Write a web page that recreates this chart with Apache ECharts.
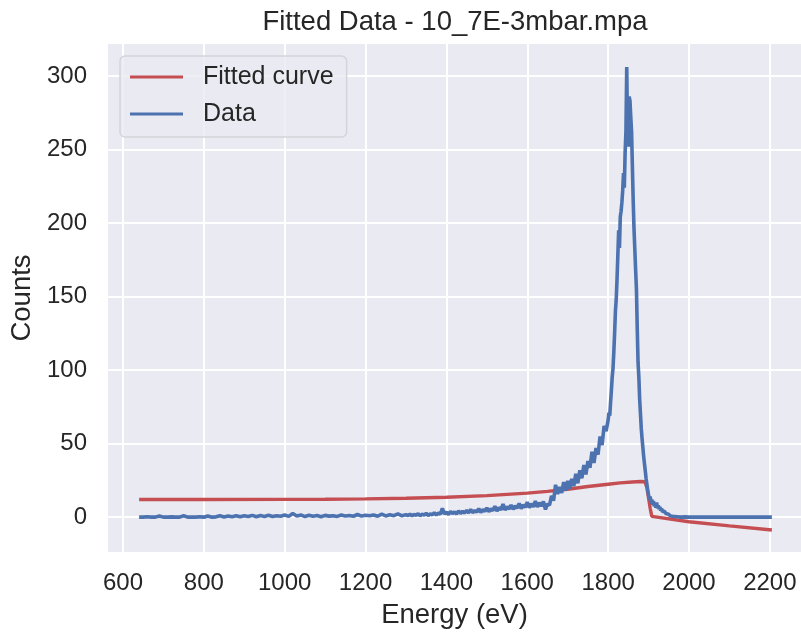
<!DOCTYPE html>
<html>
<head>
<meta charset="utf-8">
<script src="https://cdn.jsdelivr.net/npm/echarts@6/dist/echarts.min.js"></script>
<style>
  html, body { margin: 0; padding: 0; background: #fff; }
  #chart { width: 801px; height: 635px; }
</style>
</head>
<body>
<div id="chart"></div>
<script>
// measured spectrum (energy in eV, counts)
const dataEnergy = [
  640, 650, 660, 670, 680, 690, 700, 710, 720, 730,
  740, 750, 760, 770, 780, 790, 800, 810, 820, 830,
  840, 850, 860, 870, 880, 890, 900, 910, 920, 930,
  940, 950, 960, 970, 980, 990, 1000, 1010, 1020, 1030,
  1040, 1050, 1060, 1070, 1080, 1090, 1100, 1110, 1120, 1130,
  1140, 1150, 1160, 1170, 1180, 1190, 1200, 1210, 1220, 1230,
  1240, 1250, 1260, 1270, 1280, 1290, 1300,
  1305, 1310, 1315, 1320, 1325, 1330, 1335, 1340, 1345, 1350,
  1355, 1360, 1365, 1370, 1375, 1380, 1385, 1390, 1395, 1400,
  1405, 1410, 1415, 1420, 1425, 1430, 1435, 1440, 1445, 1450,
  1455, 1460, 1465, 1470, 1475, 1480, 1485, 1490, 1495, 1500,
  1505, 1510, 1515, 1520, 1525, 1530, 1535, 1540, 1545, 1550,
  1555, 1560, 1565, 1570, 1575, 1580, 1585, 1590, 1595, 1600,
  1605, 1610, 1615, 1620, 1625, 1630, 1635, 1640, 1645, 1650,
  1655, 1660, 1665, 1670, 1675, 1680, 1685, 1690, 1695, 1700,
  1705, 1710, 1715, 1720, 1725, 1730, 1735, 1740, 1745, 1750,
  1755, 1760, 1765, 1770, 1775, 1780, 1785, 1790, 1795,
  1800, 1802, 1804, 1806, 1808, 1810, 1812, 1814, 1816, 1818,
  1820, 1822, 1824, 1826, 1828, 1830, 1832, 1834, 1836, 1838,
  1840, 1842, 1844, 1846, 1848, 1850, 1852, 1854, 1856, 1858,
  1860, 1862, 1864, 1866, 1868, 1870, 1872, 1874, 1876, 1878,
  1880, 1882, 1884, 1886, 1888, 1890, 1892, 1894, 1896, 1898,
  1900, 1902, 1904, 1906, 1908, 1910, 1912, 1914, 1916, 1918,
  1920, 1922, 1924, 1926, 1928, 1930, 1932, 1934, 1936, 1938,
  1940, 1942, 1944, 1946, 1948, 1950, 1952, 1954, 1956, 1958,
  1960, 1970, 1980, 1990, 2000, 2050, 2100, 2150, 2205
]
const dataCounts = [
  0, 0, 0.3, 0, 0, 0.8, 0, 0, 0.2, 0,
  0, 0.9, 0, 0.1, 0, 0.3, 0, 0.7, 0, 0.2,
  0.9, 0.1, 0.8, 0.3, 1.0, 0.2, 0.9, 0.4, 1.2, 0.3,
  1.1, 0.5, 1.3, 0.4, 1.0, 0.6, 1.4, 0.5, 2.5, 0.8,
  1.5, 0.4, 1.3, 0.6, 1.1, 0.3, 1.2, 0.7, 1.0, 0.5,
  1.4, 0.8, 1.1, 0.6, 1.8, 0.7, 1.3, 0.9, 1.5, 0.6,
  2.0, 0.8, 1.6, 1.0, 2.2, 0.9, 1.7,
  1.0, 2.1, 0.8, 1.9, 1.2, 2.4, 0.9, 2.0, 1.4, 2.6,
  1.1, 2.3, 1.6, 3.0, 1.5, 2.8, 2.0, 6.0, 2.2, 3.4,
  1.8, 3.8, 2.4, 3.5, 2.1, 4.2, 2.6, 3.9, 2.8, 4.6,
  3.0, 5.2, 3.1, 4.4, 3.5, 5.8, 3.3, 5.1, 4.0, 6.3,
  3.8, 5.6, 4.5, 7.4, 4.2, 6.5, 5.0, 8.8, 4.9, 7.0,
  5.6, 8.2, 5.3, 7.6, 6.1, 9.4, 5.8, 8.3, 6.6, 10.2,
  6.4, 9.1, 7.0, 11.0, 6.9, 9.8, 7.5, 10.6, 5.2, 9.0,
  8.1, 14.5, 11.2, 22.0, 15.8, 20.5, 16.4, 23.8, 18.0, 24.6,
  19.2, 26.0, 21.1, 29.5, 23.0, 31.8, 26.4, 35.5, 29.0, 38.2,
  33.6, 44.5, 36.8, 47.0, 42.5, 54.8, 49.0, 62.0, 58.5,
  66, 71, 69, 78, 86, 95, 101, 112, 125, 140,
  148, 162, 178, 195, 183, 204, 208, 214, 222, 234,
  224, 248, 262, 306, 258, 252, 286, 283, 272, 262,
  238, 215, 196, 182, 168, 155, 128, 105, 95, 80,
  70, 60, 53, 47, 41, 36, 31, 26, 22, 18,
  15, 12, 14, 9.5, 12, 8.5, 11, 7.5, 9, 6.5,
  10, 6, 8, 5.5, 7, 4.5, 6, 3.8, 5, 3.2,
  4, 2.5, 3, 1.8, 2.2, 1.2, 1.5, 0.8, 1.0, 0.4,
  0.6, 0.3, 0, 0.2, 0, 0, 0, 0, 0
]

// fitted curve
const fitEnergy = [640, 800, 1000, 1100, 1200, 1300, 1400, 1500, 1600, 1650, 1700, 1750, 1800, 1830, 1860, 1880, 1891, 1896, 1900, 1904, 1908, 1912, 2000, 2100, 2205]
const fitCounts = [12.0, 12.0, 12.1, 12.2, 12.4, 12.8, 13.5, 14.6, 16.3, 17.5, 19.0, 20.8, 22.4, 23.3, 23.9, 24.2, 24.1, 20, 13, 6, 0.5, -0.8, -3.1, -5.9, -8.7]

const xTicks = [600, 800, 1000, 1200, 1400, 1600, 1800, 2000, 2200]
const yTicks = [0, 50, 100, 150, 200, 250, 300]

const FONT = "'Liberation Sans', Arial, sans-serif"
const TEXT = '#262626'

const chart = echarts.init(document.getElementById('chart'))

chart.setOption({
  animation: false,
  backgroundColor: '#ffffff',
  textStyle: { fontFamily: FONT },
  title: {
    text: 'Fitted Data - 10_7E-3mbar.mpa',
    left: 455,
    top: 8,
    padding: 0,
    textAlign: 'center',
    textStyle: { fontFamily: FONT, fontSize: 27.5, fontWeight: 'normal', color: TEXT },
  },
  legend: {
    orient: 'vertical',
    left: 120,
    top: 56,
    padding: [7, 13, 9, 10],
    itemWidth: 53,
    itemHeight: 3,
    itemGap: 9,
    icon: 'rect',
    backgroundColor: 'rgba(234, 234, 242, 0.8)',
    borderColor: '#d4d4da',
    borderWidth: 1.5,
    borderRadius: 5,
    textStyle: { fontFamily: FONT, fontSize: 25, color: TEXT, lineHeight: 28, padding: [0, 0, 0, 15] },
    data: ['Fitted curve', 'Data'],
  },
  grid: {
    left: 108,
    right: 0,
    top: 44,
    bottom: 83,
    show: true,
    backgroundColor: '#EAEAF2',
    borderWidth: 0,
    outerBoundsMode: 'none',
  },
  xAxis: {
    type: 'value',
    min: 563,
    max: 2277,
    name: 'Energy (eV)',
    nameLocation: 'middle',
    nameGap: 49,
    nameTextStyle: { fontFamily: FONT, fontSize: 27.5, color: TEXT },
    axisLine: { show: false },
    axisTick: { show: false, customValues: xTicks },
    axisLabel: {
      customValues: xTicks,
      formatter: (v) => String(v),
      fontFamily: FONT, fontSize: 24, color: TEXT, margin: 19,
    },
    splitLine: { show: true, lineStyle: { color: '#ffffff', width: 2 } },
  },
  yAxis: {
    type: 'value',
    min: -23.7,
    max: 321.7,
    name: 'Counts',
    nameLocation: 'middle',
    nameRotate: 90,
    nameGap: 72,
    nameTextStyle: { fontFamily: FONT, fontSize: 27.5, color: TEXT },
    axisLine: { show: false },
    axisTick: { show: false, customValues: yTicks },
    axisLabel: {
      customValues: yTicks,
      formatter: (v) => String(v),
      fontFamily: FONT, fontSize: 24, color: TEXT, margin: 21,
    },
    splitLine: { show: true, lineStyle: { color: '#ffffff', width: 2 } },
  },
  series: [
    {
      name: 'Fitted curve',
      type: 'line',
      symbol: 'none',
      color: '#C44E52',
      lineStyle: { color: '#C44E52', width: 3.4 },
      z: 2,
      data: fitEnergy.map((e, i) => [e, fitCounts[i]]),
    },
    {
      name: 'Data',
      type: 'line',
      symbol: 'none',
      color: '#4C72B0',
      lineStyle: { color: '#4C72B0', width: 3.6 },
      z: 3,
      data: dataEnergy.map((e, i) => [e, dataCounts[i]]),
    },
  ],
})
</script>
</body>
</html>
